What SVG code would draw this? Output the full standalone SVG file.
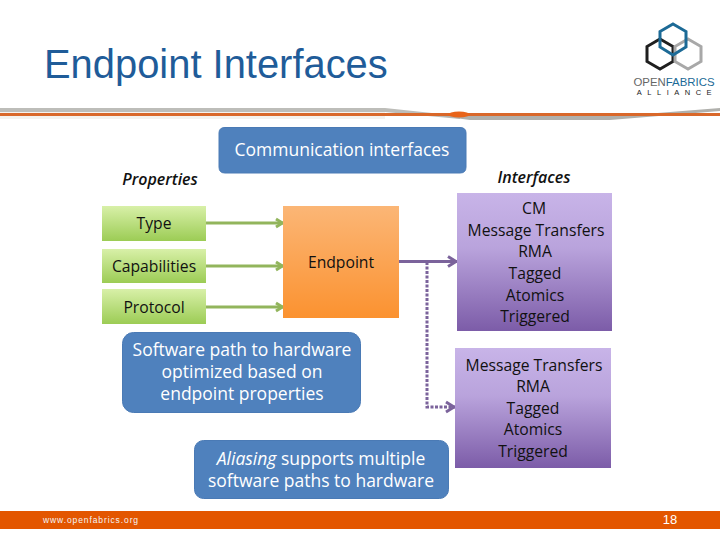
<svg xmlns="http://www.w3.org/2000/svg" width="720" height="540" viewBox="0 0 720 540">
<defs>
<linearGradient id="g" x1="0" y1="0" x2="0" y2="1"><stop offset="0" stop-color="#d8f0a8"/><stop offset="1" stop-color="#9ccc55"/></linearGradient>
<linearGradient id="o" x1="0" y1="0" x2="0" y2="1"><stop offset="0" stop-color="#fbb676"/><stop offset="1" stop-color="#fb9230"/></linearGradient>
<linearGradient id="p" x1="0" y1="0" x2="0" y2="1"><stop offset="0" stop-color="#c8b4e8"/><stop offset="0.4" stop-color="#b9a3dc"/><stop offset="1" stop-color="#7c5ca8"/></linearGradient>
<marker id="ag" markerUnits="userSpaceOnUse" markerWidth="10" markerHeight="12" refX="9" refY="6" orient="auto"><path d="M2 2 L8.500 6 L2 10" fill="none" stroke="#92b55c" stroke-width="3"/></marker>
<marker id="ap" markerUnits="userSpaceOnUse" markerWidth="12" markerHeight="14" refX="11" refY="7" orient="auto"><path d="M2 2 L10 7 L2 12" fill="none" stroke="#7b639b" stroke-width="3"/></marker>
</defs>
<style>
text{font-family:"Open Sans","DejaVu Sans",sans-serif;font-size:15.700px;fill:#111;text-anchor:middle}
.b{fill:#4f81bd;stroke:#4a7ab5}
.w{fill:#fff;font-size:17.500px}
.l{font-style:italic;font-size:16px;font-weight:600}
.gl{stroke:#92b55c;stroke-width:3;fill:none;marker-end:url(#ag)}
.pl{stroke:#7b639b;stroke-width:3;fill:none}
.hex{fill:none;stroke-width:3}
</style>
<rect width="720" height="540" fill="#fff"/>
<text x="44" y="78" style="font-family:'Liberation Sans',sans-serif;font-size:39.900px;fill:#1f5c99;text-anchor:start">Endpoint Interfaces</text>
<g id="rule">
<rect x="0" y="110" width="385" height="9" fill="#f4f2ee"/>
<path d="M0 108 H385 L460 116 V119 L385 112 H0Z" fill="#bdbdb9"/>
<path d="M440 116 H620 L720 108 V111 L610 120 H470Z" fill="#b0b0ac"/>
<rect x="0" y="113" width="720" height="3" fill="#d9682a"/>
<ellipse cx="459" cy="114.500" rx="11" ry="3" fill="#e8641a"/>
</g>
<g id="logo">
<path class="hex" stroke="#1f1f1f" d="M660 39 L673 46.500 V61.500 L660 69 L647 61.500 V46.500Z"/>
<path class="hex" stroke="#a8a8a8" d="M688 39 L701 46.500 V61.500 L688 69 L675 61.500 V46.500Z"/>
<path class="hex" stroke="#1c6a96" d="M673 24 L686 31.500 V47 L673 55 L660 47 V31.500Z"/>
<text x="674" y="86" style="font-family:'Liberation Sans',sans-serif;font-size:11.400px;fill:#555"><tspan fill="#666">OPEN</tspan><tspan fill="#1c6a96">FABRICS</tspan></text>
<text x="677" y="95" style="font-family:'Liberation Sans',sans-serif;font-size:7.500px;letter-spacing:5.500px;fill:#222">ALLIANCE</text>
</g>
<g id="connectors">
<path class="gl" d="M205 223 H283"/>
<path class="gl" d="M206 266 H283"/>
<path class="gl" d="M205 307 H283"/>
<path class="pl" d="M398 261.500 H457" marker-end="url(#ap)"/>
<path class="pl" stroke-dasharray="3 1.500" d="M427 262 V407 H455" marker-end="url(#ap)"/>
</g>
<g id="communication"><path class="b" d="M225 127.500 H460 Q466 127.500 466 133 V167 Q466 173 460 173 H225 Q219 173 219 167 V133 Q219 127.500 225 127.500Z"/><text class="w" x="342" y="156">Communication interfaces</text></g>
<g id="properties-label"><text class="l" x="160" y="185">Properties</text></g>
<g id="interfaces-label"><text class="l" x="534" y="183">Interfaces</text></g>
<g id="type"><rect x="102" y="206" width="104" height="35" fill="url(#g)"/><text x="154" y="229">Type</text></g>
<g id="capabilities"><rect x="102" y="249" width="104" height="34" fill="url(#g)"/><text x="154" y="272">Capabilities</text></g>
<g id="protocol"><rect x="102" y="289" width="104" height="35" fill="url(#g)"/><text x="154" y="313">Protocol</text></g>
<g id="endpoint"><rect x="283" y="206" width="116" height="112" fill="url(#o)"/><text x="341" y="268">Endpoint</text></g>
<g id="interfaces-1"><rect x="457" y="193" width="155" height="138" fill="url(#p)"/>
<text x="534" y="214">CM</text><text x="536" y="236">Message Transfers</text><text x="535" y="257">RMA</text><text x="535" y="279">Tagged</text><text x="535" y="301">Atomics</text><text x="535" y="322">Triggered</text></g>
<g id="interfaces-2"><rect x="455" y="348" width="156" height="120" fill="url(#p)"/>
<text x="534" y="371">Message Transfers</text><text x="533" y="392">RMA</text><text x="533" y="414">Tagged</text><text x="533" y="435">Atomics</text><text x="533" y="457">Triggered</text></g>
<g id="software-path"><rect x="122.500" y="332.500" width="238" height="80" rx="11" class="b"/>
<text class="w" x="242" y="355.500">Software path to hardware</text><text class="w" x="242" y="377.500">optimized based on</text><text class="w" x="242" y="399.500">endpoint properties</text></g>
<g id="aliasing"><rect x="194.500" y="440.500" width="254" height="58" rx="9" class="b"/>
<text class="w" x="321" y="464.500"><tspan font-style="italic">Aliasing</tspan> supports multiple</text><text class="w" x="321" y="487">software paths to hardware</text></g>
<g id="footer"><rect x="0" y="511" width="720" height="18" fill="#e35600"/>
<text x="43" y="523" style="font-family:'Liberation Sans',sans-serif;font-size:8.500px;letter-spacing:.9px;fill:#f4f4f4;text-anchor:start">www.openfabrics.org</text>
<text x="670" y="524" style="font-family:'Liberation Sans',sans-serif;font-size:13px;fill:#fff">18</text></g>
</svg>
